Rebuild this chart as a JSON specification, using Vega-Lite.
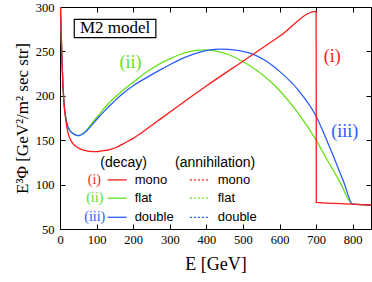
{
  "$schema": "https://vega.github.io/schema/vega-lite/v6.json",
  "autosize": {"type": "none"},
  "padding": {"left": 60, "top": 7, "right": 1, "bottom": 53},
  "width": 311,
  "height": 222,
  "config": {
    "view": {"stroke": "black", "strokeWidth": 1},
    "axis": {
      "grid": false,
      "domainColor": "black",
      "tickColor": "black",
      "labelColor": "black",
      "titleColor": "black",
      "labelFont": "Liberation Serif",
      "titleFont": "Liberation Serif",
      "labelFontSize": 12.5,
      "titleFontWeight": "normal",
      "tickSize": -5
    }
  },
  "resolve": {"axis": {"x": "independent", "y": "independent"}},
  "datasets": {
    "curves": [
      {"s": "(ii) flat", "E": 0.8, "F": 335}, {"s": "(ii) flat", "E": 1.4, "F": 300}, {"s": "(ii) flat", "E": 2.2, "F": 285}, {"s": "(ii) flat", "E": 3.3, "F": 271}, {"s": "(ii) flat", "E": 5, "F": 245}, {"s": "(ii) flat", "E": 7.7, "F": 215}, {"s": "(ii) flat", "E": 10, "F": 198}, {"s": "(ii) flat", "E": 12.3, "F": 186}, {"s": "(ii) flat", "E": 15, "F": 177.5}, {"s": "(ii) flat", "E": 18, "F": 170.5}, {"s": "(ii) flat", "E": 21.3, "F": 165.5}, {"s": "(ii) flat", "E": 25, "F": 162.3}, {"s": "(ii) flat", "E": 28.7, "F": 160}, {"s": "(ii) flat", "E": 33, "F": 158.3}, {"s": "(ii) flat", "E": 38.8, "F": 156.7}, {"s": "(ii) flat", "E": 44, "F": 155.6}, {"s": "(ii) flat", "E": 48, "F": 155.2}, {"s": "(ii) flat", "E": 53, "F": 155.4}, {"s": "(ii) flat", "E": 60, "F": 156.8}, {"s": "(ii) flat", "E": 67, "F": 159}, {"s": "(ii) flat", "E": 75, "F": 162.5}, {"s": "(ii) flat", "E": 90, "F": 170.5}, {"s": "(ii) flat", "E": 105, "F": 178}, {"s": "(ii) flat", "E": 122, "F": 186.5}, {"s": "(ii) flat", "E": 145, "F": 196.5}, {"s": "(ii) flat", "E": 167, "F": 204.5}, {"s": "(ii) flat", "E": 204, "F": 216.5}, {"s": "(ii) flat", "E": 245, "F": 229}, {"s": "(ii) flat", "E": 275, "F": 236.5}, {"s": "(ii) flat", "E": 300, "F": 241.5}, {"s": "(ii) flat", "E": 343, "F": 248.5}, {"s": "(ii) flat", "E": 372, "F": 251.2}, {"s": "(ii) flat", "E": 400, "F": 251.8}, {"s": "(ii) flat", "E": 430, "F": 250}, {"s": "(ii) flat", "E": 460, "F": 246.5}, {"s": "(ii) flat", "E": 496, "F": 239.5}, {"s": "(ii) flat", "E": 540, "F": 228}, {"s": "(ii) flat", "E": 570, "F": 218}, {"s": "(ii) flat", "E": 600, "F": 206}, {"s": "(ii) flat", "E": 650, "F": 181}, {"s": "(ii) flat", "E": 700, "F": 150}, {"s": "(ii) flat", "E": 730, "F": 128}, {"s": "(ii) flat", "E": 765, "F": 103}, {"s": "(ii) flat", "E": 800, "F": 78}, {"s": "(ii) flat", "E": 850, "F": 77},
      {"s": "(iii) double", "E": 0.8, "F": 335}, {"s": "(iii) double", "E": 1.4, "F": 300}, {"s": "(iii) double", "E": 2.2, "F": 285}, {"s": "(iii) double", "E": 3.3, "F": 271}, {"s": "(iii) double", "E": 5, "F": 245}, {"s": "(iii) double", "E": 7.7, "F": 215}, {"s": "(iii) double", "E": 10, "F": 198}, {"s": "(iii) double", "E": 12.3, "F": 186}, {"s": "(iii) double", "E": 15, "F": 177.5}, {"s": "(iii) double", "E": 18, "F": 170.5}, {"s": "(iii) double", "E": 21.3, "F": 165.5}, {"s": "(iii) double", "E": 25, "F": 162.3}, {"s": "(iii) double", "E": 28.7, "F": 160}, {"s": "(iii) double", "E": 33, "F": 158.3}, {"s": "(iii) double", "E": 38.8, "F": 156.7}, {"s": "(iii) double", "E": 44, "F": 155.6}, {"s": "(iii) double", "E": 48, "F": 155.2}, {"s": "(iii) double", "E": 53, "F": 155.3}, {"s": "(iii) double", "E": 60, "F": 156.5}, {"s": "(iii) double", "E": 67, "F": 158.5}, {"s": "(iii) double", "E": 75, "F": 161.5}, {"s": "(iii) double", "E": 90, "F": 168.5}, {"s": "(iii) double", "E": 105, "F": 175.5}, {"s": "(iii) double", "E": 122, "F": 183}, {"s": "(iii) double", "E": 145, "F": 192.5}, {"s": "(iii) double", "E": 167, "F": 201}, {"s": "(iii) double", "E": 204, "F": 212.5}, {"s": "(iii) double", "E": 245, "F": 222.5}, {"s": "(iii) double", "E": 275, "F": 229.5}, {"s": "(iii) double", "E": 300, "F": 235}, {"s": "(iii) double", "E": 343, "F": 243.5}, {"s": "(iii) double", "E": 380, "F": 249}, {"s": "(iii) double", "E": 410, "F": 251.7}, {"s": "(iii) double", "E": 436, "F": 252.5}, {"s": "(iii) double", "E": 460, "F": 252.3}, {"s": "(iii) double", "E": 490, "F": 250.8}, {"s": "(iii) double", "E": 523, "F": 247.5}, {"s": "(iii) double", "E": 560, "F": 240}, {"s": "(iii) double", "E": 600, "F": 227.5}, {"s": "(iii) double", "E": 650, "F": 207}, {"s": "(iii) double", "E": 700, "F": 177}, {"s": "(iii) double", "E": 725, "F": 154}, {"s": "(iii) double", "E": 750, "F": 129}, {"s": "(iii) double", "E": 775, "F": 103.5}, {"s": "(iii) double", "E": 800, "F": 78}, {"s": "(iii) double", "E": 850, "F": 77},
      {"s": "(i) mono", "E": 0.8, "F": 335}, {"s": "(i) mono", "E": 1.4, "F": 300}, {"s": "(i) mono", "E": 2.2, "F": 285}, {"s": "(i) mono", "E": 3.3, "F": 271}, {"s": "(i) mono", "E": 5, "F": 245}, {"s": "(i) mono", "E": 7.7, "F": 215}, {"s": "(i) mono", "E": 10, "F": 198}, {"s": "(i) mono", "E": 12.3, "F": 185}, {"s": "(i) mono", "E": 15, "F": 175.5}, {"s": "(i) mono", "E": 18, "F": 167}, {"s": "(i) mono", "E": 21, "F": 160}, {"s": "(i) mono", "E": 25, "F": 154}, {"s": "(i) mono", "E": 30, "F": 149.5}, {"s": "(i) mono", "E": 35, "F": 146.5}, {"s": "(i) mono", "E": 42, "F": 143.5}, {"s": "(i) mono", "E": 50, "F": 141.3}, {"s": "(i) mono", "E": 60, "F": 139.3}, {"s": "(i) mono", "E": 70, "F": 138.2}, {"s": "(i) mono", "E": 82, "F": 137.4}, {"s": "(i) mono", "E": 93, "F": 137.1}, {"s": "(i) mono", "E": 105, "F": 137.3}, {"s": "(i) mono", "E": 120, "F": 138.2}, {"s": "(i) mono", "E": 135, "F": 139.5}, {"s": "(i) mono", "E": 150, "F": 141.2}, {"s": "(i) mono", "E": 175, "F": 146.5}, {"s": "(i) mono", "E": 200, "F": 152}, {"s": "(i) mono", "E": 225, "F": 159}, {"s": "(i) mono", "E": 250, "F": 166.5}, {"s": "(i) mono", "E": 275, "F": 174}, {"s": "(i) mono", "E": 300, "F": 181.5}, {"s": "(i) mono", "E": 345, "F": 195}, {"s": "(i) mono", "E": 400, "F": 211}, {"s": "(i) mono", "E": 500, "F": 239}, {"s": "(i) mono", "E": 600, "F": 267}, {"s": "(i) mono", "E": 700, "F": 295}, {"s": "(i) mono", "E": 700.5, "F": 80}, {"s": "(i) mono", "E": 800, "F": 78}, {"s": "(i) mono", "E": 850, "F": 77}
    ]
  },
  "layer": [
    {
      "data": {"name": "curves"},
      "mark": {"type": "line", "strokeWidth": 1.3, "clip": true, "interpolate": "monotone"},
      "encoding": {
        "x": {"field": "E", "type": "quantitative", "scale": {"domain": [0, 850], "nice": false, "zero": false},
              "axis": {"orient": "bottom", "values": [0, 100, 200, 300, 400, 500, 600, 700, 800], "title": "E [GeV]", "titleFontSize": 18, "labelPadding": 9, "titlePadding": 10, "labelFlush": false}},
        "y": {"field": "F", "type": "quantitative", "scale": {"domain": [50, 300], "nice": false, "zero": false},
              "axis": {"orient": "left", "values": [50, 100, 150, 200, 250, 300], "title": "E³Φ [GeV²/m² sec str]", "titleFontSize": 17, "labelPadding": 11, "titlePadding": 4, "labelFlush": false}},
        "color": {"field": "s", "type": "nominal", "legend": null,
                  "scale": {"domain": ["(i) mono", "(ii) flat", "(iii) double"], "range": ["#ff1a1a", "#66e01a", "#2a5cff"]}},
        "order": {"field": "E", "type": "quantitative"}
      }
    },
    {
      "data": {"values": [{}]},
      "mark": {"type": "rect", "fill": "white", "stroke": "black", "strokeWidth": 1.2},
      "encoding": {
        "x": {"datum": 39, "type": "quantitative", "axis": {"orient": "top", "labels": false, "title": null, "domain": false, "values": [0, 100, 200, 300, 400, 500, 600, 700, 800]}},
        "x2": {"datum": 262},
        "y": {"datum": 286, "type": "quantitative", "axis": {"orient": "right", "labels": false, "title": null, "domain": false, "values": [50, 100, 150, 200, 250, 300]}},
        "y2": {"datum": 265.6}
      }
    },
    {
      "data": {"values": [{}]},
      "mark": {"type": "text", "font": "Liberation Serif", "fontSize": 17, "color": "black", "align": "center", "baseline": "middle"},
      "encoding": {"x": {"datum": 150.5, "axis": null}, "y": {"datum": 276, "axis": null}, "text": {"value": "M2 model"}}
    },
    {
      "data": {"values": [{}]},
      "mark": {"type": "text", "font": "Liberation Serif", "fontSize": 18, "color": "#ff1a1a", "align": "center", "baseline": "middle"},
      "encoding": {"x": {"datum": 744, "axis": null}, "y": {"datum": 243.5, "axis": null}, "text": {"value": "(i)"}}
    },
    {
      "data": {"values": [{}]},
      "mark": {"type": "text", "font": "Liberation Serif", "fontSize": 18, "color": "#66e01a", "align": "center", "baseline": "middle"},
      "encoding": {"x": {"datum": 193, "axis": null}, "y": {"datum": 237, "axis": null}, "text": {"value": "(ii)"}}
    },
    {
      "data": {"values": [{}]},
      "mark": {"type": "text", "font": "Liberation Serif", "fontSize": 18, "color": "#2a5cff", "align": "center", "baseline": "middle"},
      "encoding": {"x": {"datum": 778, "axis": null}, "y": {"datum": 159, "axis": null}, "text": {"value": "(iii)"}}
    },
    {
      "data": {"values": [{}]},
      "mark": {"type": "text", "font": "Liberation Sans", "fontSize": 14, "color": "black", "align": "center", "baseline": "middle"},
      "encoding": {"x": {"datum": 174, "axis": null}, "y": {"datum": 124.5, "axis": null}, "text": {"value": "(decay)"}}
    },
    {
      "data": {"values": [{}]},
      "mark": {"type": "text", "font": "Liberation Sans", "fontSize": 14, "color": "black", "align": "center", "baseline": "middle"},
      "encoding": {"x": {"datum": 424, "axis": null}, "y": {"datum": 124.5, "axis": null}, "text": {"value": "(annihilation)"}}
    },
    {
      "data": {"values": [{}]},
      "mark": {"type": "text", "font": "Liberation Serif", "fontSize": 14, "color": "#ff1a1a", "align": "center", "baseline": "middle"},
      "encoding": {"x": {"datum": 94, "axis": null}, "y": {"datum": 105.3, "axis": null}, "text": {"value": "(i)"}}
    },
    {
      "data": {"values": [{}]},
      "mark": {"type": "text", "font": "Liberation Serif", "fontSize": 14, "color": "#66e01a", "align": "center", "baseline": "middle"},
      "encoding": {"x": {"datum": 95, "axis": null}, "y": {"datum": 84.7, "axis": null}, "text": {"value": "(ii)"}}
    },
    {
      "data": {"values": [{}]},
      "mark": {"type": "text", "font": "Liberation Serif", "fontSize": 14, "color": "#2a5cff", "align": "center", "baseline": "middle"},
      "encoding": {"x": {"datum": 95, "axis": null}, "y": {"datum": 63.2, "axis": null}, "text": {"value": "(iii)"}}
    },
    {
      "data": {"values": [{}]},
      "mark": {"type": "rule", "color": "#ff1a1a", "strokeWidth": 1.3},
      "encoding": {"x": {"datum": 130, "axis": null}, "x2": {"datum": 182}, "y": {"datum": 105.3, "axis": null}}
    },
    {
      "data": {"values": [{}]},
      "mark": {"type": "rule", "color": "#66e01a", "strokeWidth": 1.3},
      "encoding": {"x": {"datum": 130, "axis": null}, "x2": {"datum": 182}, "y": {"datum": 84.7, "axis": null}}
    },
    {
      "data": {"values": [{}]},
      "mark": {"type": "rule", "color": "#2a5cff", "strokeWidth": 1.3},
      "encoding": {"x": {"datum": 130, "axis": null}, "x2": {"datum": 182}, "y": {"datum": 63.2, "axis": null}}
    },
    {
      "data": {"values": [{}]},
      "mark": {"type": "rule", "color": "#ff1a1a", "strokeWidth": 1.2, "strokeDash": [2, 2]},
      "encoding": {"x": {"datum": 355, "axis": null}, "x2": {"datum": 409}, "y": {"datum": 105.3, "axis": null}}
    },
    {
      "data": {"values": [{}]},
      "mark": {"type": "rule", "color": "#66e01a", "strokeWidth": 1.2, "strokeDash": [2, 2]},
      "encoding": {"x": {"datum": 355, "axis": null}, "x2": {"datum": 409}, "y": {"datum": 84.7, "axis": null}}
    },
    {
      "data": {"values": [{}]},
      "mark": {"type": "rule", "color": "#2a5cff", "strokeWidth": 1.2, "strokeDash": [2, 2]},
      "encoding": {"x": {"datum": 355, "axis": null}, "x2": {"datum": 409}, "y": {"datum": 63.2, "axis": null}}
    },
    {
      "data": {"values": [{}]},
      "mark": {"type": "text", "font": "Liberation Sans", "fontSize": 13, "color": "black", "align": "left", "baseline": "middle"},
      "encoding": {"x": {"datum": 204, "axis": null}, "y": {"datum": 105.3, "axis": null}, "text": {"value": "mono"}}
    },
    {
      "data": {"values": [{}]},
      "mark": {"type": "text", "font": "Liberation Sans", "fontSize": 13, "color": "black", "align": "left", "baseline": "middle"},
      "encoding": {"x": {"datum": 204, "axis": null}, "y": {"datum": 84.7, "axis": null}, "text": {"value": "flat"}}
    },
    {
      "data": {"values": [{}]},
      "mark": {"type": "text", "font": "Liberation Sans", "fontSize": 13, "color": "black", "align": "left", "baseline": "middle"},
      "encoding": {"x": {"datum": 204, "axis": null}, "y": {"datum": 63.2, "axis": null}, "text": {"value": "double"}}
    },
    {
      "data": {"values": [{}]},
      "mark": {"type": "text", "font": "Liberation Sans", "fontSize": 13, "color": "black", "align": "left", "baseline": "middle"},
      "encoding": {"x": {"datum": 431, "axis": null}, "y": {"datum": 105.3, "axis": null}, "text": {"value": "mono"}}
    },
    {
      "data": {"values": [{}]},
      "mark": {"type": "text", "font": "Liberation Sans", "fontSize": 13, "color": "black", "align": "left", "baseline": "middle"},
      "encoding": {"x": {"datum": 431, "axis": null}, "y": {"datum": 84.7, "axis": null}, "text": {"value": "flat"}}
    },
    {
      "data": {"values": [{}]},
      "mark": {"type": "text", "font": "Liberation Sans", "fontSize": 13, "color": "black", "align": "left", "baseline": "middle"},
      "encoding": {"x": {"datum": 431, "axis": null}, "y": {"datum": 63.2, "axis": null}, "text": {"value": "double"}}
    }
  ]
}
